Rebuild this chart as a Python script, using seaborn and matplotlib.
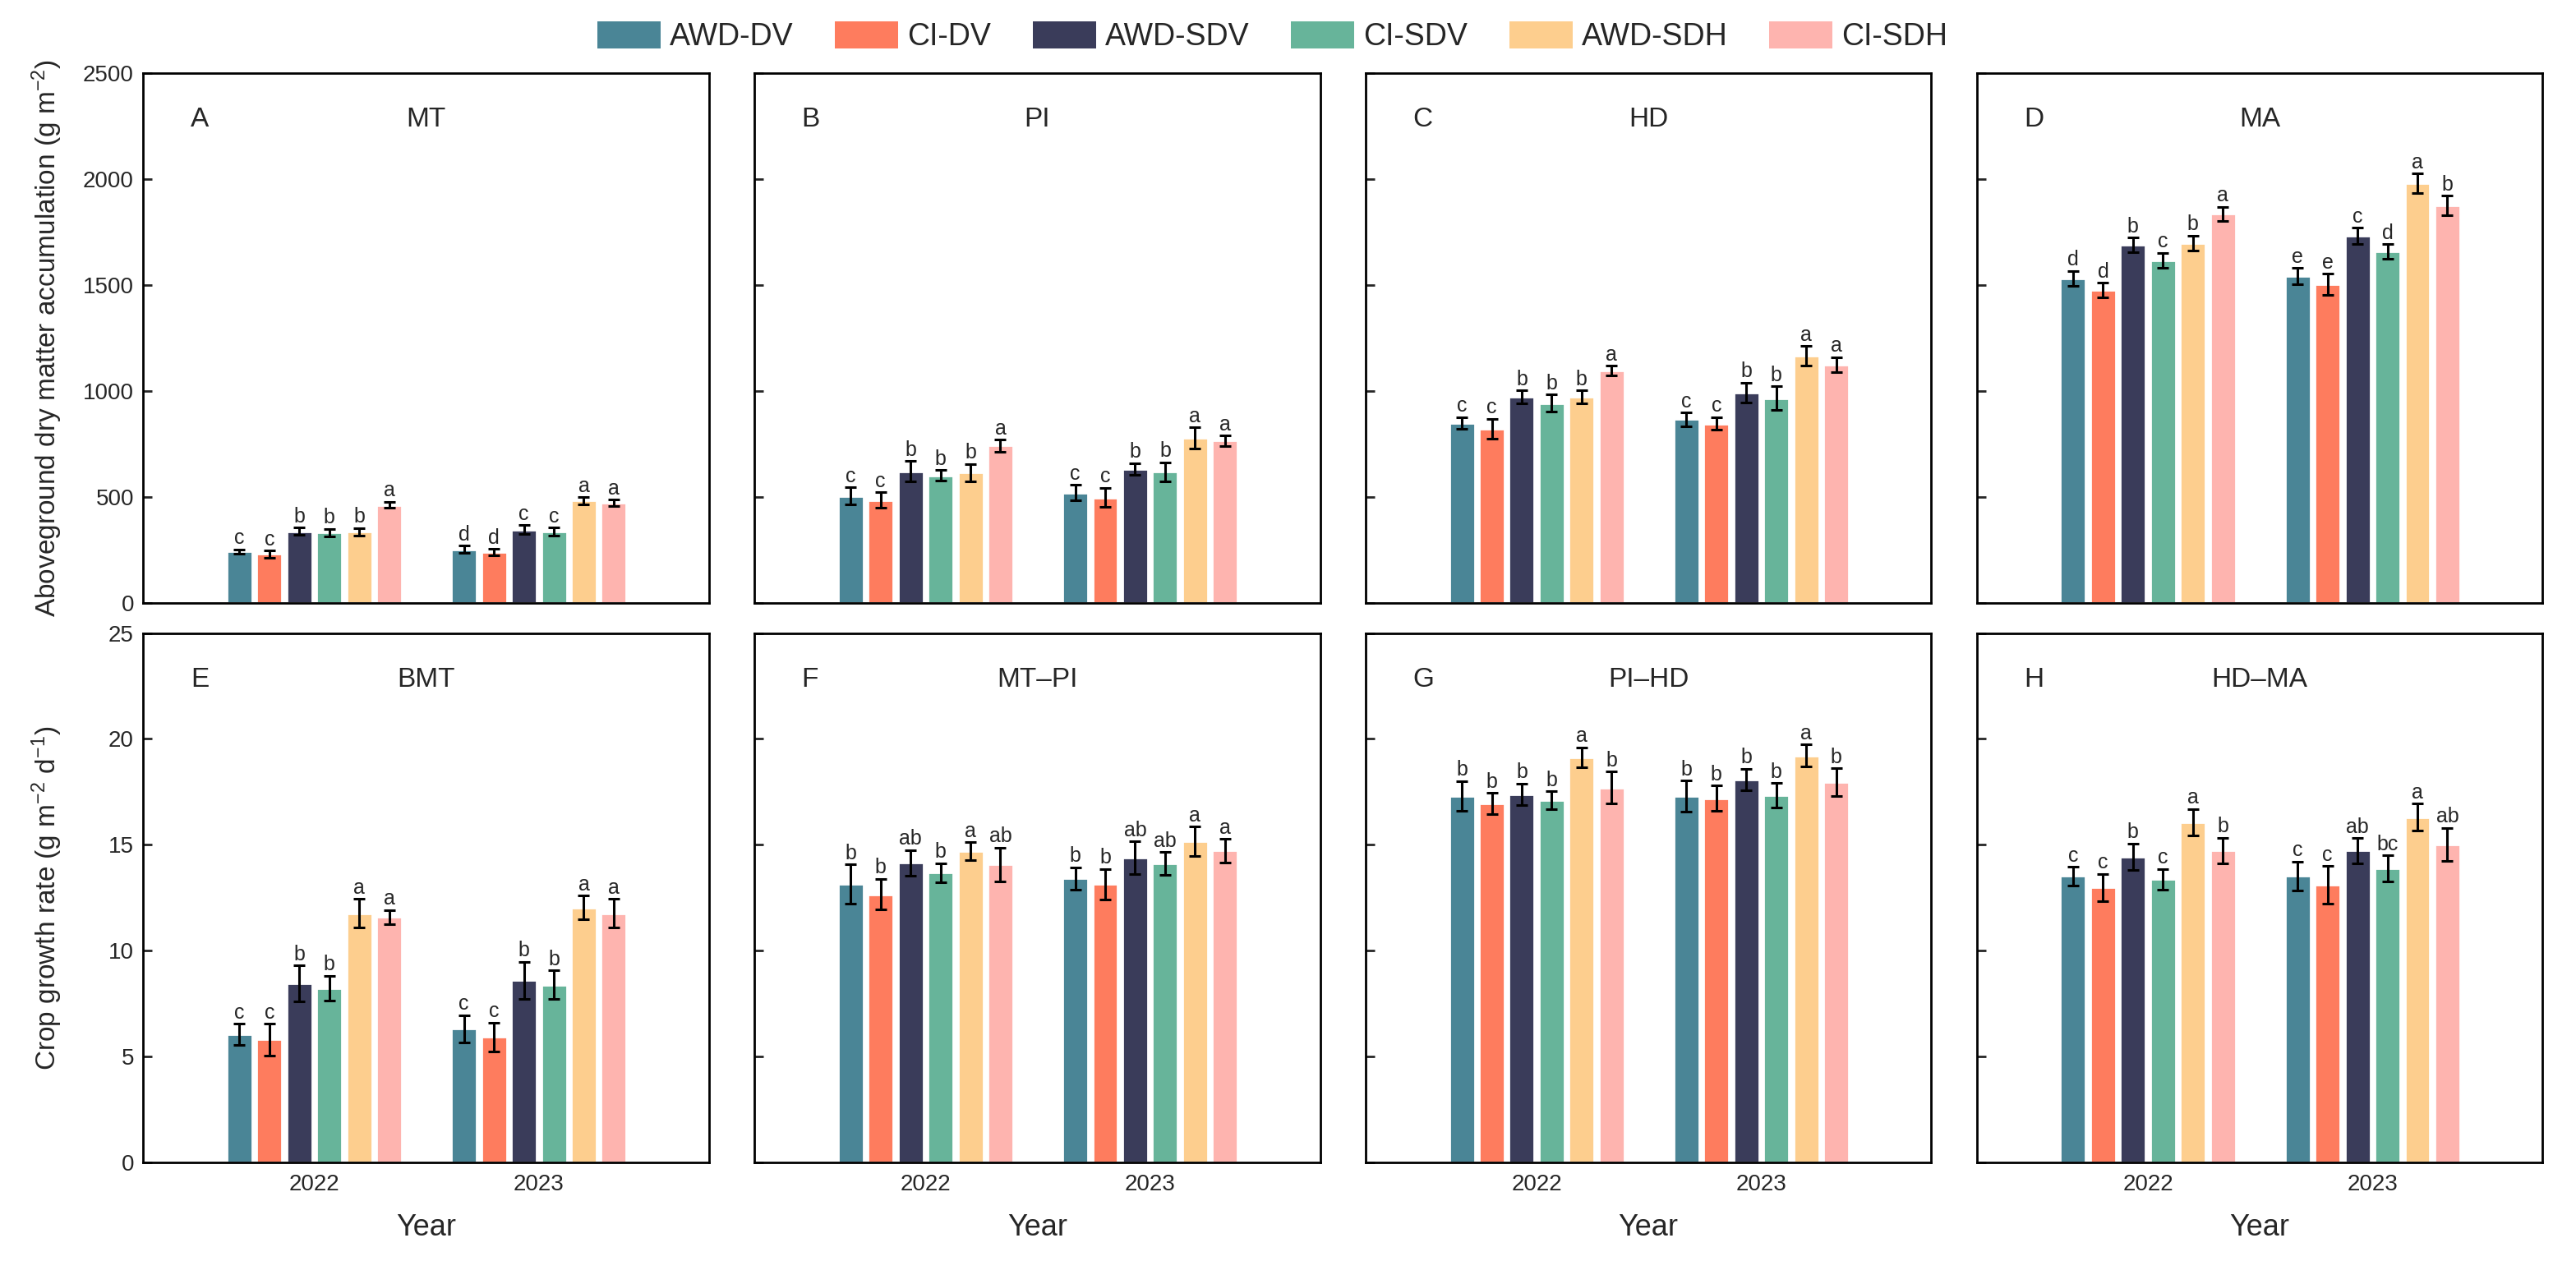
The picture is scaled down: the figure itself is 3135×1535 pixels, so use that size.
import numpy as np
import pandas as pd
import seaborn as sns
import matplotlib
matplotlib.use('Agg')
import matplotlib.pyplot as plt
from matplotlib.patches import Patch

TREATMENTS = ['AWD-DV', 'CI-DV', 'AWD-SDV', 'CI-SDV', 'AWD-SDH', 'CI-SDH']
YEARS = ['2022', '2023']
COLORS = ['#4a8596', '#fe7c5e', '#3a3c5a', '#67b49a', '#fdce8e', '#feb4af']

# dry matter (g m-2), one row per year
mt_mean = [[242, 230, 338, 332, 335, 462], [253, 239, 346, 335, 482, 471]]
mt_err = [[11, 17, 16, 17, 18, 15], [17, 16, 20, 19, 16, 16]]
mt_letters = [list('ccbbba'), list('ddccaa')]

pi_mean = [[505, 485, 621, 601, 614, 742], [520, 497, 632, 618, 779, 765]]
pi_err = [[39, 38, 47, 25, 42, 28], [36, 46, 28, 46, 49, 25]]
pi_letters = [list('ccbbba'), list('ccbbaa')]

hd_mean = [[850, 822, 971, 943, 971, 1095], [866, 846, 993, 966, 1165, 1123]]
hd_err = [[27, 47, 31, 40, 31, 23], [33, 30, 46, 55, 46, 36]]
hd_letters = [list('ccbbba'), list('ccbbaa')]

ma_mean = [[1531, 1477, 1690, 1616, 1698, 1837], [1542, 1503, 1732, 1658, 1980, 1876]]
ma_err = [[36, 34, 34, 36, 36, 33], [39, 51, 39, 36, 46, 46]]
ma_letters = [list('ddbcba'), list('eecdab')]

# crop growth rate (g m-2 d-1)
bmt_mean = [[6.05, 5.81, 8.46, 8.23, 11.77, 11.59], [6.32, 5.93, 8.61, 8.40, 12.04, 11.77]]
bmt_err = [[0.50, 0.75, 0.85, 0.60, 0.67, 0.33], [0.64, 0.69, 0.88, 0.67, 0.56, 0.67]]
bmt_letters = [list('ccbbaa'), list('ccbbaa')]

mtpi_mean = [[13.14, 12.67, 14.16, 13.68, 14.70, 14.07], [13.41, 13.14, 14.39, 14.12, 15.17, 14.73]]
mtpi_err = [[0.93, 0.73, 0.60, 0.46, 0.42, 0.80], [0.54, 0.72, 0.77, 0.53, 0.69, 0.56]]
mtpi_letters = [['b', 'b', 'ab', 'b', 'a', 'ab'], ['b', 'b', 'ab', 'ab', 'a', 'a']]

pihd_mean = [[17.31, 16.96, 17.38, 17.11, 19.14, 17.70], [17.31, 17.20, 18.09, 17.35, 19.22, 17.97]]
pihd_err = [[0.71, 0.49, 0.52, 0.42, 0.46, 0.76], [0.73, 0.60, 0.50, 0.57, 0.52, 0.65]]
pihd_letters = [list('bbbbab'), list('bbbbab')]

hdma_mean = [[13.53, 12.99, 14.43, 13.38, 16.07, 14.73], [13.53, 13.11, 14.73, 13.89, 16.30, 15.02]]
hdma_err = [[0.44, 0.64, 0.63, 0.49, 0.63, 0.61], [0.68, 0.88, 0.59, 0.61, 0.64, 0.78]]
hdma_letters = [['c', 'c', 'b', 'c', 'a', 'b'], ['c', 'c', 'ab', 'bc', 'a', 'ab']]

panels = [
    ('A', 'MT', mt_mean, mt_err, mt_letters),
    ('B', 'PI', pi_mean, pi_err, pi_letters),
    ('C', 'HD', hd_mean, hd_err, hd_letters),
    ('D', 'MA', ma_mean, ma_err, ma_letters),
    ('E', 'BMT', bmt_mean, bmt_err, bmt_letters),
    ('F', 'MT–PI', mtpi_mean, mtpi_err, mtpi_letters),
    ('G', 'PI–HD', pihd_mean, pihd_err, pihd_letters),
    ('H', 'HD–MA', hdma_mean, hdma_err, hdma_letters),
]

sns.set_style('ticks')
plt.rcParams['font.family'] = ['Liberation Sans', 'DejaVu Sans']
plt.rcParams['mathtext.fontset'] = 'custom'
plt.rcParams['mathtext.rm'] = 'Liberation Sans'
plt.rcParams['mathtext.it'] = 'Liberation Sans'
plt.rcParams['axes.edgecolor'] = 'black'
plt.rcParams['axes.linewidth'] = 1.0

fig, axes = plt.subplots(2, 4, figsize=(15.675, 7.675), dpi=200)
fig.subplots_adjust(left=0.0555, right=0.987, top=0.942, bottom=0.078, wspace=0.08, hspace=0.057)

for k, (tag, title, mean, err, letters) in enumerate(panels):
    ax = axes.flat[k]
    row, col = divmod(k, 4)
    df = pd.DataFrame({
        'year': np.repeat(YEARS, len(TREATMENTS)),
        'treatment': TREATMENTS * len(YEARS),
        'value': np.ravel(mean),
    })
    sns.barplot(data=df, x='year', y='value', hue='treatment', order=YEARS,
                hue_order=TREATMENTS, palette=COLORS, saturation=1, errorbar=None,
                width=0.8, gap=0.15, legend=False, ax=ax)
    bar_groups = list(ax.containers)
    for i, cont in enumerate(bar_groups):
        for j, bar in enumerate(cont.patches):
            x = bar.get_x() + bar.get_width() / 2
            h = bar.get_height()
            e = err[j][i]
            ax.errorbar(x, h, yerr=e, fmt='none', ecolor='black', elinewidth=1.1,
                        capsize=2.6, capthick=1.1)
            ax.annotate(letters[j][i], (x, h + e), xytext=(0, 0.5), textcoords='offset points',
                        ha='center', va='bottom', fontsize=9)

    ax.set_xlim(-0.763, 1.757)
    if row == 0:
        ax.set_ylim(0, 2500)
        ax.set_yticks(range(0, 2501, 500))
    else:
        ax.set_ylim(0, 25)
        ax.set_yticks(range(0, 26, 5))
    for s in ax.spines.values():
        s.set_visible(True)
        s.set_linewidth(1.0)
    ax.tick_params(axis='y', direction='in', length=4, width=1, labelsize=10, pad=4)
    ax.tick_params(axis='x', length=0, labelsize=10, pad=5)
    ax.text(0.084, 0.912, tag, transform=ax.transAxes, fontsize=12, ha='left', va='center')
    ax.text(0.5, 0.912, title, transform=ax.transAxes, fontsize=12, ha='center', va='center')

    if row == 0:
        ax.tick_params(axis='x', labelbottom=False)
        ax.set_xlabel('')
    else:
        ax.set_xlabel('Year', fontsize=13, labelpad=8)
    if col == 0:
        if row == 0:
            ax.set_ylabel('Aboveground dry matter accumulation (g m$^{-2}$)', fontsize=12)
        else:
            ax.set_ylabel('Crop growth rate (g m$^{-2}$ d$^{-1}$)', fontsize=12)
        ax.yaxis.set_label_coords(-0.14, 0.5)
    else:
        ax.set_ylabel('')
        ax.tick_params(axis='y', labelleft=False)

handles = [Patch(facecolor=c, edgecolor='none') for c in COLORS]
fig.legend(handles, TREATMENTS, loc='center', bbox_to_anchor=(0.494, 0.971), ncol=6,
           frameon=False, fontsize=13.5, handlelength=2.05, handleheight=1.0,
           handletextpad=0.3, columnspacing=1.35)

fig.savefig('out.png', dpi=200)
